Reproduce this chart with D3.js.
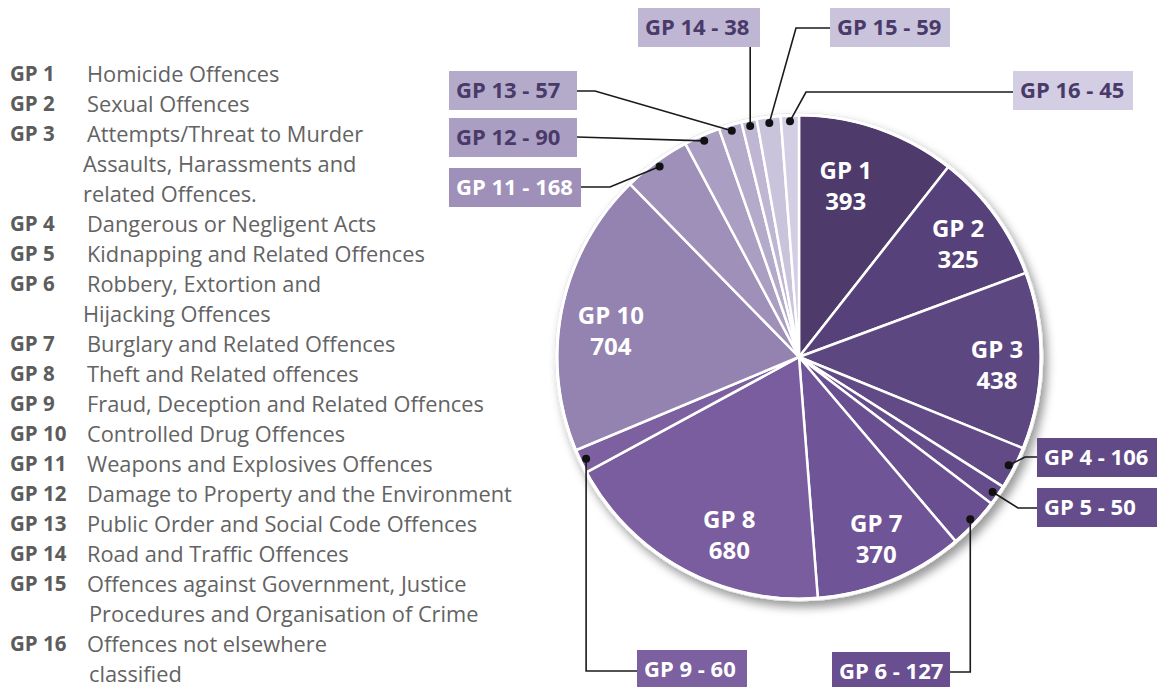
<!DOCTYPE html>
<html>
<head>
<meta charset="utf-8">
<script src="https://cdn.jsdelivr.net/npm/d3@7"></script>
<style>
  body { margin: 0; background: #fff; }
  svg { display: block; font-family: 'Open Sans', sans-serif; }
</style>
</head>
<body>
<div id="chart"></div>
<script>
// groups and counts
var codes = ['GP 1', 'GP 2', 'GP 3', 'GP 4', 'GP 5', 'GP 6', 'GP 7', 'GP 8',
  'GP 9', 'GP 10', 'GP 11', 'GP 12', 'GP 13', 'GP 14', 'GP 15', 'GP 16']
var values = [393, 325, 438, 106, 50, 127, 370, 680, 60, 704, 168, 90, 57, 38, 59, 45]
var descriptions = [
  ['Homicide Offences'],
  ['Sexual Offences'],
  ['Attempts/Threat to Murder', 'Assaults, Harassments and', 'related Offences.'],
  ['Dangerous or Negligent Acts'],
  ['Kidnapping and Related Offences'],
  ['Robbery, Extortion and', 'Hijacking Offences'],
  ['Burglary and Related Offences'],
  ['Theft and Related offences'],
  ['Fraud, Deception and Related Offences'],
  ['Controlled Drug Offences'],
  ['Weapons and Explosives Offences'],
  ['Damage to Property and the Environment'],
  ['Public Order and Social Code Offences'],
  ['Road and Traffic Offences'],
  ['Offences against Government, Justice', 'Procedures and Organisation of Crime'],
  ['Offences not elsewhere', 'classified']
]
// which groups get a label inside the slice
var insideLabels = ['GP 1', 'GP 2', 'GP 3', 'GP 7', 'GP 8', 'GP 10']

var sliceColors = ['#4e3b6c', '#57417a', '#5d4781', '#614a86', '#654c8b', '#694f90',
  '#6f5497', '#7a5d9e', '#7c609f', '#9483b0', '#9e90b9', '#aa9fc3', '#b4abcb',
  '#beb6d3', '#c9c3dc', '#d3cee4']

var width = 1163
var height = 687
var cx = 799
var cy = 357
var radius = 242

var color = d3.scaleOrdinal().domain(codes).range(sliceColors)

var svg = d3.select('#chart').append('svg')
  .attr('width', width)
  .attr('height', height)

var defs = svg.append('defs')
var shadow = defs.append('filter').attr('id', 'shadow')
  .attr('x', '-20%').attr('y', '-20%').attr('width', '140%').attr('height', '140%')
shadow.append('feDropShadow')
  .attr('dx', 4).attr('dy', 6).attr('stdDeviation', 5)
  .attr('flood-color', '#000').attr('flood-opacity', 0.4)

// legend
var legend = svg.append('g').attr('class', 'legend')
var row = 0
codes.forEach(function (c, i) {
  var lines = descriptions[i]
  lines.forEach(function (line, j) {
    var y = 74 + row * 30
    if (j === 0) {
      legend.append('text')
        .attr('x', 10).attr('y', y).attr('dy', '0.35em')
        .attr('font-size', 20.5).attr('font-weight', 'bold')
        .attr('fill', '#5c5c5c')
        .text(c)
    }
    var xText = 87
    if (j > 0) xText = i < 9 ? 83 : 89
    legend.append('text')
      .attr('x', xText).attr('y', y).attr('dy', '0.35em')
      .attr('font-size', 21.8)
      .attr('fill', '#636363')
      .text(line)
    row++
  })
})

// pie
var pie = d3.pie().sort(null).value(function (d) { return d.value })
var data = codes.map(function (c, i) { return { code: c, value: values[i] } })
var arcs = pie(data)
var arc = d3.arc().innerRadius(0).outerRadius(radius)
var dotArc = d3.arc().innerRadius(236).outerRadius(236)
var labelArc = d3.arc().innerRadius(192).outerRadius(192)
// small hand nudges for the inside labels, as in the original
var nudge = { 'GP 1': [-16, 10], 'GP 2': [4, 0], 'GP 3': [6, 5], 'GP 7': [4, 4], 'GP 8': [22, 9], 'GP 10': [0, 12] }

var g = svg.append('g').attr('transform', 'translate(' + cx + ',' + cy + ')')

g.append('circle')
  .attr('r', radius + 2)
  .attr('fill', '#fff')
  .attr('stroke', '#e6e4ea')
  .attr('stroke-width', 1)
  .attr('filter', 'url(#shadow)')

g.append('g')
  .selectAll('path')
  .data(arcs)
  .join('path')
  .attr('d', arc)
  .attr('fill', function (d) { return color(d.data.code) })
  .attr('stroke', '#fff')
  .attr('stroke-width', 2.5)
  .attr('stroke-linejoin', 'round')

g.append('circle')
  .attr('r', radius)
  .attr('fill', 'none')
  .attr('stroke', '#fff')
  .attr('stroke-width', 3)

// two text lines per slice label
var inner = g.append('g')
  .selectAll('g')
  .data(arcs.filter(function (d) { return insideLabels.indexOf(d.data.code) >= 0 }))
  .join('g')
  .attr('transform', function (d) {
    var p = labelArc.centroid(d)
    var n = nudge[d.data.code] || [0, 0]
    return 'translate(' + (p[0] + n[0]) + ',' + (p[1] + n[1]) + ')'
  })
  .attr('text-anchor', 'middle')
  .attr('font-size', 24)
  .attr('font-weight', 'bold')
  .attr('fill', '#fff')
inner.append('text').attr('y', -15).attr('dy', '0.35em')
  .text(function (d) { return d.data.code })
inner.append('text').attr('y', 16).attr('dy', '0.35em')
  .text(function (d) { return d.data.value })

// callouts for the small groups
var callouts = {
  'GP 4': { box: [1037, 438, 120], path: function (p) { return [p, [1025, 457], [1037, 457]] } },
  'GP 5': { box: [1037, 488, 120], path: function (p) { return [p, [1018, 508], [1037, 508]] } },
  'GP 6': { box: [832, 652, 118], path: function (p) { return [p, [p[0], 672], [950, 672]] } },
  'GP 9': { box: [637, 650, 110], path: function (p) { return [p, [p[0], 671], [637, 671]] } },
  'GP 11': { box: [449, 168, 132], path: function (p) { return [p, [610, 187], [581, 187]] } },
  'GP 12': { box: [449, 118, 128], path: function (p) { return [p, [577, 137]] } },
  'GP 13': { box: [449, 71, 128], path: function (p) { return [p, [595, 91], [577, 91]] } },
  'GP 14': { box: [638, 8, 122], path: function (p) { return [p, [p[0], 46]] } },
  'GP 15': { box: [830, 8, 120], path: function (p) { return [p, [796, 28], [830, 28]] } },
  'GP 16': { box: [1013, 71, 120], path: function (p) { return [p, [806, 92], [1013, 92]] } }
}
var darkText = ['GP 12', 'GP 13', 'GP 14', 'GP 15', 'GP 16']

var co = svg.append('g').attr('class', 'callouts')
arcs.forEach(function (d) {
  var c = callouts[d.data.code]
  if (!c) return
  var p = dotArc.centroid(d)
  p = [p[0] + cx, p[1] + cy]
  co.append('path')
    .attr('d', d3.line()(c.path(p)))
    .attr('fill', 'none')
    .attr('stroke', '#1a1a1a')
    .attr('stroke-width', 1.6)
  co.append('circle')
    .attr('cx', p[0]).attr('cy', p[1]).attr('r', 4)
    .attr('fill', '#111')
  co.append('rect')
    .attr('x', c.box[0]).attr('y', c.box[1])
    .attr('width', c.box[2]).attr('height', 39)
    .attr('fill', color(d.data.code))
  co.append('text')
    .attr('x', c.box[0] + 7).attr('y', c.box[1] + 19.5).attr('dy', '0.35em')
    .attr('font-size', 22)
    .attr('font-weight', 'bold')
    .attr('fill', darkText.indexOf(d.data.code) >= 0 ? '#4a3a69' : '#fff')
    .text(d.data.code + ' - ' + d.data.value)
})
</script>
</body>
</html>
